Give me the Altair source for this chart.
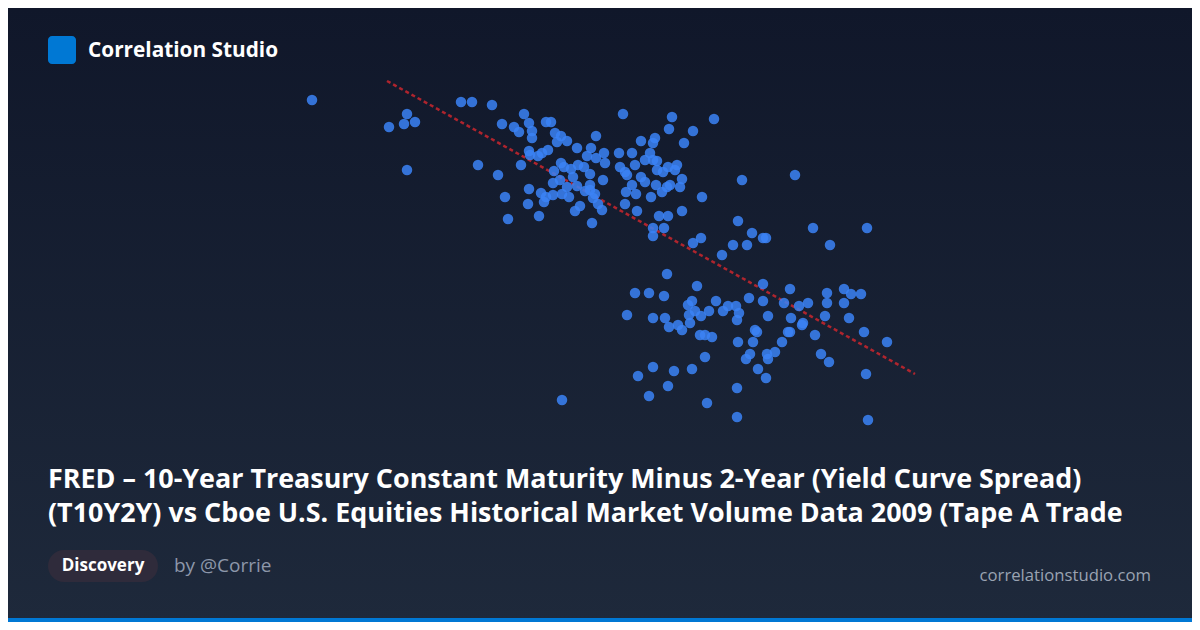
import altair as alt
import pandas as pd

# ---- data ----
# x: yield-curve spread (bp), y: Tape A trade volume (millions)
spread_bp = [
    148, 167.25, 171, 171.75, 173.75, 171.75, 185.25, 188, 193, 189.5,
    194.5, 195.5, 198.5, 199.75, 201, 202.25, 203, 203, 206.5, 207.75,
    219, 208.75, 210.25, 211.75, 209.25, 214.25, 217.75, 216.75, 219, 221,
    221.25, 202.25, 202.5, 205.5, 207, 204.5, 200.25, 208.5, 210.25, 211,
    212.75, 214.5, 216, 217.5, 213.25, 210, 208.25, 211.75, 214.25, 216.25,
    217.5, 218.75, 220.75, 202.25, 205.25, 206.5, 208.25, 210.5, 212.25, 202,
    206, 204.75, 197, 196.25, 215, 213.75, 218, 218.25, 219.5, 220.5,
    217.5, 225.75, 238, 248.5, 237.25, 243.25, 230.25, 233.75, 233.25, 241,
    224.75, 228, 232.5, 233.25, 231.25, 234.25, 225, 226.25, 226.75, 228.75,
    230.25, 231.25, 228, 234.25, 235.75, 237, 239.25, 238.75, 240.5, 240,
    237.5, 236.75, 234, 226.5, 229, 232.75, 235.5, 245.5, 255.5, 268.75,
    226.25, 229.25, 234.75, 237, 240.5, 233.25, 236, 233.25, 254.5, 258,
    260.75, 261.5, 253.25, 256.75, 273.25, 286.75, 277.5, 245.25, 243.25, 250.5,
    236.75, 228.75, 232.25, 236, 244.25, 226.75, 233.25, 236.25, 237.25, 239.5,
    240.5, 242.5, 242, 243, 242.25, 243.75, 245.25, 247.25, 249, 250.75,
    252, 254, 254.75, 254.25, 245, 246.25, 248, 257.25, 260.75, 260.75,
    262, 267.5, 266, 269.75, 272, 267.75, 270.75, 270.5, 267.5, 267,
    258.75, 259.25, 254.5, 258.25, 265.5, 263.75, 261.75, 262, 257.5, 256.5,
    259.5, 261.5, 273.75, 275.25, 277.25, 276.75, 276.75, 276.25, 281, 282.75,
    285.25, 281, 282.25, 286, 291.75, 286.5, 287, 229.5, 233.25, 238.5,
    243, 246.25, 237, 232.25, 246.75, 254.25, 254.25, 210.5,
]
volume_m = [
    265, 251.5, 253, 258, 254, 230, 264, 264, 262.5, 232.5,
    227.5, 253, 251.5, 249, 258, 253.5, 249.5, 246, 254, 254,
    247, 248.5, 247, 244.5, 244, 241, 241, 237, 236, 238.5,
    233.5, 239.5, 237.5, 238.5, 240, 237, 232.5, 229.5, 233.5, 231.5,
    230.5, 232.5, 231.5, 228, 226.5, 225, 223.5, 221.5, 222, 219.5,
    222.5, 218, 225, 220.5, 218.5, 216.5, 217.5, 218, 216.5, 213,
    214, 207, 205.5, 216.5, 212, 209.5, 203.5, 216, 213, 210,
    220, 258, 256.5, 255.5, 250.5, 249.5, 244.5, 246, 243.5, 243.5,
    238.5, 238.5, 238.5, 235, 235, 234.5, 231.5, 229, 227.5, 232.5,
    226.5, 224, 222.5, 230, 229, 231.5, 232.5, 230, 225.5, 221.5,
    222.5, 221.5, 222.5, 219, 218, 216.5, 219, 216.5, 225, 227.5,
    213, 209.5, 207, 207, 209.5, 201, 201, 197, 204.5, 198.5,
    196, 196, 192.5, 192.5, 201, 201, 192.5, 196, 193.5, 187.5,
    178, 168.5, 168.5, 167, 172, 157.5, 156, 156, 151.5, 152.5,
    150, 153.5, 162.5, 164.5, 157.5, 159.5, 157, 159.5, 164.5, 159.5,
    162, 162, 158.5, 155, 147.5, 147.5, 146.5, 166, 173, 164.5,
    157, 170.5, 163.5, 162, 163.5, 156, 153.5, 152.5, 149, 149,
    150, 149, 144, 144, 144, 139, 138, 135.5, 138, 135.5,
    130.5, 126, 147.5, 138, 134, 168.5, 163.5, 157, 170.5, 168,
    168, 163.5, 156, 149, 144, 128, 105, 127, 131.5, 129.5,
    130.5, 136.5, 122, 117, 113.5, 121, 106.5, 115,
]
trend_x = [166.75, 298.75]
trend_y = [274.5, 128]

brand = ["Correlation Studio"]
title_line1 = ["FRED \u2013 10-Year Treasury Constant Maturity Minus 2-Year (Yield Curve Spread)"]
title_line2 = ["(T10Y2Y) vs Cboe U.S. Equities Historical Market Volume Data 2009 (Tape A Trade"]
tag = ["Discovery"]
author = ["by @Corrie"]
site = ["correlationstudio.com"]

W, H = 1184, 614
FONT = "Open Sans"

pts = pd.DataFrame({"spread": spread_bp, "volume": volume_m})
trend = pd.DataFrame({"spread": trend_x, "volume": trend_y})

xs = alt.Scale(domain=[100, 300], range=[112, 912])
ys = alt.Scale(domain=[100, 300], range=[422, 22])

one = pd.DataFrame({"k": [0]})


def label(texts, x, y, size, color, weight="normal", align="left", baseline="alphabetic"):
    return alt.Chart(pd.DataFrame({"t": texts})).mark_text(
        font=FONT, fontSize=size, fontWeight=weight, color=color,
        align=align, baseline=baseline,
    ).encode(text="t:N", x=alt.value(x), y=alt.value(y))


bg = alt.Chart(one).mark_rect(
    color=alt.LinearGradient(
        gradient="linear", x1=0, x2=0, y1=0, y2=1,
        stops=[alt.GradientStop(offset=0, color="#10172a"),
               alt.GradientStop(offset=1, color="#1e293b")],
    )
).encode(x=alt.value(0), x2=alt.value(W), y=alt.value(0), y2=alt.value(H))

bar = alt.Chart(one).mark_rect(color="#0078d4").encode(
    x=alt.value(0), x2=alt.value(W), y=alt.value(610), y2=alt.value(H))

logo = alt.Chart(one).mark_rect(color="#0078d4", cornerRadius=4).encode(
    x=alt.value(40), x2=alt.value(68), y=alt.value(28), y2=alt.value(56))

brand_t = label(brand, 80, 49, 20.8, "#ffffff", weight="bold")
title1 = label(title_line1, 40, 480, 26.9, "#ffffff", weight="bold")
title2 = label(title_line2, 40, 514, 26.9, "#ffffff", weight="bold")

pill = alt.Chart(one).mark_rect(color="#2f2b3b", cornerRadius=16).encode(
    x=alt.value(40), x2=alt.value(150), y=alt.value(542), y2=alt.value(574))

tag_t = label(tag, 95, 558, 17, "#ffffff", weight="bold", align="center", baseline="middle")
author_t = label(author, 166, 558, 19, "#8d97aa", baseline="middle")
site_t = label(site, 1143, 568, 16.7, "#9aa3b2", align="right", baseline="middle")

dots = alt.Chart(pts).mark_circle(size=110, color="#3b82f6", opacity=0.85).encode(
    x=alt.X("spread:Q", scale=xs, axis=None),
    y=alt.Y("volume:Q", scale=ys, axis=None),
)

line = alt.Chart(trend).mark_line(
    color="#c0262d", strokeWidth=2.5, strokeDash=[4, 3], opacity=0.9
).encode(
    x=alt.X("spread:Q", scale=xs, axis=None),
    y=alt.Y("volume:Q", scale=ys, axis=None),
)

chart = alt.layer(
    bg, bar, logo, brand_t, title1, title2, pill, tag_t, author_t, site_t, line, dots
).properties(
    width=W, height=H, padding=0, background="#10172a",
    autosize=alt.AutoSizeParams(type="none"),
).configure_view(strokeWidth=0)

chart.save("out.html", embed_options={"renderer": "svg", "actions": False})
